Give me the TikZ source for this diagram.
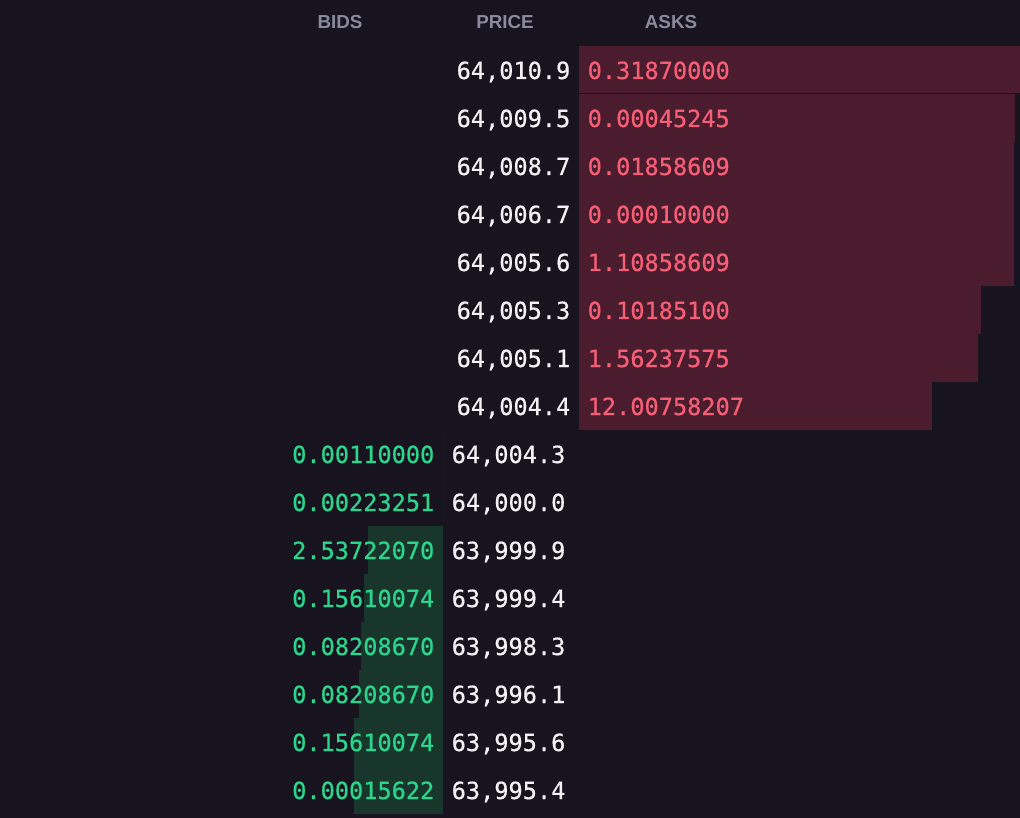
\documentclass[tikz,border=0pt]{standalone}
\usepackage{fontspec}
\setmainfont{Liberation Sans}
\newfontfamily\monof[FakeBold=0.6]{DejaVu Sans Mono}
\definecolor{bgc}{RGB}{23,19,31}
\definecolor{askbar}{RGB}{74,28,46}
\definecolor{bidbar}{RGB}{24,54,44}
\definecolor{asktxt}{RGB}{246,94,118}
\definecolor{bidtxt}{RGB}{45,212,140}
\definecolor{pricetxt}{RGB}{242,242,245}
\definecolor{headtxt}{RGB}{138,138,158}
\tikzset{
  num/.style={inner sep=0pt, font=\monof\fontsize{23.6}{28}\selectfont},
  pricenum/.style={num, text=pricetxt},
  asknum/.style={num, text=asktxt, anchor=base west},
  bidnum/.style={num, text=bidtxt, anchor=base east},
  head/.style={inner sep=0pt, anchor=base, text=headtxt, font=\bfseries\fontsize{18.8}{22}\selectfont},
  askfill/.style={fill=askbar, draw=none},
  bidfill/.style={fill=bidbar, draw=none}
}
\begin{document}
\begin{tikzpicture}[x=1pt,y=-1pt]
\fill[bgc] (0,0) rectangle (1020,818);
\useasboundingbox (0,0) rectangle (1020,818);
% headers
\node[head] (hbids) at (340,29) {BIDS};
\node[head] (hprice) at (505,29) {PRICE};
\node[head] (hasks) at (671,29) {ASKS};
% asks
\foreach \k/\p/\a/\r/\gt/\gb in {
  1/{64,010.9}/0.31870000/1020/0/1.2,
  2/{64,009.5}/0.00045245/1015/0.2/0.2,
  3/{64,008.7}/0.01858609/1014/0.2/0.2,
  4/{64,006.7}/0.00010000/1014/0.2/0.2,
  5/{64,005.6}/1.10858609/1014/0.2/0.2,
  6/{64,005.3}/0.10185100/981/0.2/0.2,
  7/{64,005.1}/1.56237575/978/0.2/0.2,
  8/{64,004.4}/12.00758207/932/0.2/0.2}{
  \pgfmathsetmacro{\t}{46+48*(\k-1)}
  \fill[askfill] (579,\t+\gt) rectangle (\r,\t+48-\gb);
  \coordinate (askbar\k) at (579,\t);
  \node[pricenum, anchor=base east] (askp\k) at (570.5,\t+33) {\p};
  \node[asknum] (aska\k) at (587.5,\t+33) {\a};
}
% bids
\foreach \k/\a/\p/\l in {
  9/0.00110000/{64,004.3}/443,
  10/0.00223251/{64,000.0}/443,
  11/2.53722070/{63,999.9}/368,
  12/0.15610074/{63,999.4}/364,
  13/0.08208670/{63,998.3}/361,
  14/0.08208670/{63,996.1}/359,
  15/0.15610074/{63,995.6}/354,
  16/0.00015622/{63,995.4}/354}{
  \pgfmathsetmacro{\t}{46+48*(\k-1)}
  \fill[bidfill] (\l,\t+0.3) rectangle (443,\t+47.7);
  \coordinate (bidbar\k) at (443,\t);
  \node[bidnum] (bida\k) at (434.5,\t+33) {\a};
  \node[pricenum, anchor=base west] (bidp\k) at (451.5,\t+33) {\p};
}
\end{tikzpicture}
\end{document}
